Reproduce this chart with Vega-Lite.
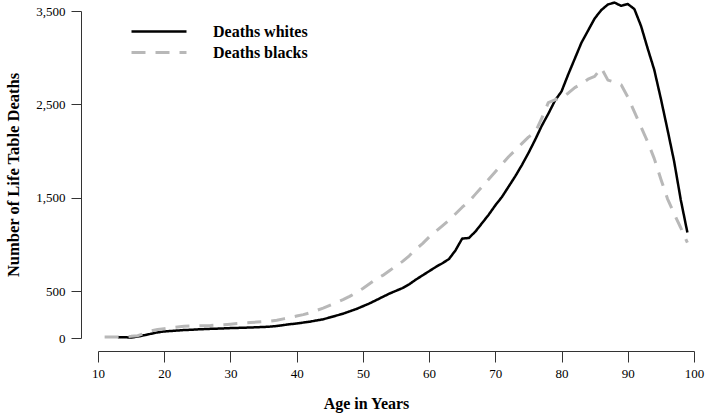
{
  "$schema": "https://vega.github.io/schema/vega-lite/v6.json",
  "autosize": {"type": "none"},
  "padding": {"left": 98, "top": 11, "right": 11, "bottom": 75},
  "width": 596,
  "height": 327,
  "background": "white",
  "config": {
    "view": {"stroke": null},
    "font": "Liberation Serif"
  },
  "data": {
    "values": [
      {"age":13,"deaths":8,"group":"Deaths whites"},{"age":14,"deaths":8,"group":"Deaths whites"},{"age":15,"deaths":5,"group":"Deaths whites"},{"age":16,"deaths":15,"group":"Deaths whites"},{"age":17,"deaths":30,"group":"Deaths whites"},{"age":18,"deaths":45,"group":"Deaths whites"},{"age":19,"deaths":60,"group":"Deaths whites"},{"age":20,"deaths":70,"group":"Deaths whites"},{"age":21,"deaths":75,"group":"Deaths whites"},{"age":22,"deaths":80,"group":"Deaths whites"},{"age":23,"deaths":85,"group":"Deaths whites"},{"age":24,"deaths":88,"group":"Deaths whites"},{"age":25,"deaths":92,"group":"Deaths whites"},{"age":26,"deaths":95,"group":"Deaths whites"},{"age":27,"deaths":98,"group":"Deaths whites"},{"age":28,"deaths":100,"group":"Deaths whites"},{"age":29,"deaths":103,"group":"Deaths whites"},{"age":30,"deaths":106,"group":"Deaths whites"},{"age":31,"deaths":108,"group":"Deaths whites"},{"age":32,"deaths":110,"group":"Deaths whites"},{"age":33,"deaths":112,"group":"Deaths whites"},{"age":34,"deaths":115,"group":"Deaths whites"},{"age":35,"deaths":118,"group":"Deaths whites"},{"age":36,"deaths":122,"group":"Deaths whites"},{"age":37,"deaths":128,"group":"Deaths whites"},{"age":38,"deaths":138,"group":"Deaths whites"},{"age":39,"deaths":148,"group":"Deaths whites"},{"age":40,"deaths":155,"group":"Deaths whites"},{"age":41,"deaths":165,"group":"Deaths whites"},{"age":42,"deaths":175,"group":"Deaths whites"},{"age":43,"deaths":188,"group":"Deaths whites"},{"age":44,"deaths":200,"group":"Deaths whites"},{"age":45,"deaths":220,"group":"Deaths whites"},{"age":46,"deaths":240,"group":"Deaths whites"},{"age":47,"deaths":260,"group":"Deaths whites"},{"age":48,"deaths":285,"group":"Deaths whites"},{"age":49,"deaths":310,"group":"Deaths whites"},{"age":50,"deaths":340,"group":"Deaths whites"},{"age":51,"deaths":370,"group":"Deaths whites"},{"age":52,"deaths":405,"group":"Deaths whites"},{"age":53,"deaths":440,"group":"Deaths whites"},{"age":54,"deaths":475,"group":"Deaths whites"},{"age":55,"deaths":505,"group":"Deaths whites"},{"age":56,"deaths":535,"group":"Deaths whites"},{"age":57,"deaths":575,"group":"Deaths whites"},{"age":58,"deaths":625,"group":"Deaths whites"},{"age":59,"deaths":670,"group":"Deaths whites"},{"age":60,"deaths":715,"group":"Deaths whites"},{"age":61,"deaths":760,"group":"Deaths whites"},{"age":62,"deaths":800,"group":"Deaths whites"},{"age":63,"deaths":845,"group":"Deaths whites"},{"age":64,"deaths":940,"group":"Deaths whites"},{"age":65,"deaths":1065,"group":"Deaths whites"},{"age":66,"deaths":1070,"group":"Deaths whites"},{"age":67,"deaths":1140,"group":"Deaths whites"},{"age":68,"deaths":1230,"group":"Deaths whites"},{"age":69,"deaths":1320,"group":"Deaths whites"},{"age":70,"deaths":1420,"group":"Deaths whites"},{"age":71,"deaths":1510,"group":"Deaths whites"},{"age":72,"deaths":1620,"group":"Deaths whites"},{"age":73,"deaths":1730,"group":"Deaths whites"},{"age":74,"deaths":1850,"group":"Deaths whites"},{"age":75,"deaths":1980,"group":"Deaths whites"},{"age":76,"deaths":2120,"group":"Deaths whites"},{"age":77,"deaths":2270,"group":"Deaths whites"},{"age":78,"deaths":2400,"group":"Deaths whites"},{"age":79,"deaths":2540,"group":"Deaths whites"},{"age":80,"deaths":2640,"group":"Deaths whites"},{"age":81,"deaths":2820,"group":"Deaths whites"},{"age":82,"deaths":2990,"group":"Deaths whites"},{"age":83,"deaths":3160,"group":"Deaths whites"},{"age":84,"deaths":3290,"group":"Deaths whites"},{"age":85,"deaths":3420,"group":"Deaths whites"},{"age":86,"deaths":3510,"group":"Deaths whites"},{"age":87,"deaths":3570,"group":"Deaths whites"},{"age":88,"deaths":3590,"group":"Deaths whites"},{"age":89,"deaths":3555,"group":"Deaths whites"},{"age":90,"deaths":3575,"group":"Deaths whites"},{"age":91,"deaths":3520,"group":"Deaths whites"},{"age":92,"deaths":3340,"group":"Deaths whites"},{"age":93,"deaths":3100,"group":"Deaths whites"},{"age":94,"deaths":2870,"group":"Deaths whites"},{"age":95,"deaths":2560,"group":"Deaths whites"},{"age":96,"deaths":2230,"group":"Deaths whites"},{"age":97,"deaths":1890,"group":"Deaths whites"},{"age":98,"deaths":1480,"group":"Deaths whites"},{"age":99,"deaths":1130,"group":"Deaths whites"},
      {"age":11,"deaths":12,"group":"Deaths blacks"},{"age":12,"deaths":12,"group":"Deaths blacks"},{"age":13,"deaths":12,"group":"Deaths blacks"},{"age":14,"deaths":15,"group":"Deaths blacks"},{"age":15,"deaths":18,"group":"Deaths blacks"},{"age":16,"deaths":25,"group":"Deaths blacks"},{"age":17,"deaths":50,"group":"Deaths blacks"},{"age":18,"deaths":75,"group":"Deaths blacks"},{"age":19,"deaths":90,"group":"Deaths blacks"},{"age":20,"deaths":100,"group":"Deaths blacks"},{"age":21,"deaths":110,"group":"Deaths blacks"},{"age":22,"deaths":118,"group":"Deaths blacks"},{"age":23,"deaths":125,"group":"Deaths blacks"},{"age":24,"deaths":128,"group":"Deaths blacks"},{"age":25,"deaths":130,"group":"Deaths blacks"},{"age":26,"deaths":132,"group":"Deaths blacks"},{"age":27,"deaths":134,"group":"Deaths blacks"},{"age":28,"deaths":138,"group":"Deaths blacks"},{"age":29,"deaths":142,"group":"Deaths blacks"},{"age":30,"deaths":148,"group":"Deaths blacks"},{"age":31,"deaths":155,"group":"Deaths blacks"},{"age":32,"deaths":160,"group":"Deaths blacks"},{"age":33,"deaths":165,"group":"Deaths blacks"},{"age":34,"deaths":170,"group":"Deaths blacks"},{"age":35,"deaths":175,"group":"Deaths blacks"},{"age":36,"deaths":180,"group":"Deaths blacks"},{"age":37,"deaths":190,"group":"Deaths blacks"},{"age":38,"deaths":205,"group":"Deaths blacks"},{"age":39,"deaths":220,"group":"Deaths blacks"},{"age":40,"deaths":235,"group":"Deaths blacks"},{"age":41,"deaths":250,"group":"Deaths blacks"},{"age":42,"deaths":270,"group":"Deaths blacks"},{"age":43,"deaths":295,"group":"Deaths blacks"},{"age":44,"deaths":320,"group":"Deaths blacks"},{"age":45,"deaths":350,"group":"Deaths blacks"},{"age":46,"deaths":380,"group":"Deaths blacks"},{"age":47,"deaths":410,"group":"Deaths blacks"},{"age":48,"deaths":445,"group":"Deaths blacks"},{"age":49,"deaths":485,"group":"Deaths blacks"},{"age":50,"deaths":530,"group":"Deaths blacks"},{"age":51,"deaths":580,"group":"Deaths blacks"},{"age":52,"deaths":630,"group":"Deaths blacks"},{"age":53,"deaths":670,"group":"Deaths blacks"},{"age":54,"deaths":720,"group":"Deaths blacks"},{"age":55,"deaths":770,"group":"Deaths blacks"},{"age":56,"deaths":820,"group":"Deaths blacks"},{"age":57,"deaths":880,"group":"Deaths blacks"},{"age":58,"deaths":950,"group":"Deaths blacks"},{"age":59,"deaths":1010,"group":"Deaths blacks"},{"age":60,"deaths":1080,"group":"Deaths blacks"},{"age":61,"deaths":1140,"group":"Deaths blacks"},{"age":62,"deaths":1200,"group":"Deaths blacks"},{"age":63,"deaths":1260,"group":"Deaths blacks"},{"age":64,"deaths":1330,"group":"Deaths blacks"},{"age":65,"deaths":1400,"group":"Deaths blacks"},{"age":66,"deaths":1460,"group":"Deaths blacks"},{"age":67,"deaths":1540,"group":"Deaths blacks"},{"age":68,"deaths":1620,"group":"Deaths blacks"},{"age":69,"deaths":1700,"group":"Deaths blacks"},{"age":70,"deaths":1780,"group":"Deaths blacks"},{"age":71,"deaths":1860,"group":"Deaths blacks"},{"age":72,"deaths":1940,"group":"Deaths blacks"},{"age":73,"deaths":2010,"group":"Deaths blacks"},{"age":74,"deaths":2080,"group":"Deaths blacks"},{"age":75,"deaths":2150,"group":"Deaths blacks"},{"age":76,"deaths":2200,"group":"Deaths blacks"},{"age":77,"deaths":2350,"group":"Deaths blacks"},{"age":78,"deaths":2520,"group":"Deaths blacks"},{"age":79,"deaths":2550,"group":"Deaths blacks"},{"age":80,"deaths":2570,"group":"Deaths blacks"},{"age":81,"deaths":2620,"group":"Deaths blacks"},{"age":82,"deaths":2680,"group":"Deaths blacks"},{"age":83,"deaths":2720,"group":"Deaths blacks"},{"age":84,"deaths":2770,"group":"Deaths blacks"},{"age":85,"deaths":2800,"group":"Deaths blacks"},{"age":86,"deaths":2890,"group":"Deaths blacks"},{"age":87,"deaths":2760,"group":"Deaths blacks"},{"age":88,"deaths":2740,"group":"Deaths blacks"},{"age":89,"deaths":2710,"group":"Deaths blacks"},{"age":90,"deaths":2580,"group":"Deaths blacks"},{"age":91,"deaths":2420,"group":"Deaths blacks"},{"age":92,"deaths":2260,"group":"Deaths blacks"},{"age":93,"deaths":2100,"group":"Deaths blacks"},{"age":94,"deaths":1920,"group":"Deaths blacks"},{"age":95,"deaths":1700,"group":"Deaths blacks"},{"age":96,"deaths":1490,"group":"Deaths blacks"},{"age":97,"deaths":1330,"group":"Deaths blacks"},{"age":98,"deaths":1180,"group":"Deaths blacks"},{"age":99,"deaths":1020,"group":"Deaths blacks"}
    ]
  },
  "mark": {"type": "line", "strokeCap": "butt", "strokeJoin": "round"},
  "encoding": {
    "x": {
      "field": "age", "type": "quantitative",
      "scale": {"domain": [10, 100], "nice": false, "zero": false},
      "axis": {
        "title": "Age in Years", "values": [10,20,30,40,50,60,70,80,90,100], "format": "d",
        "grid": false, "offset": 13, "tickSize": 11, "tickColor": "#333", "domainColor": "#333",
        "labelFont": "Liberation Serif", "labelFontSize": 13, "labelColor": "black", "labelPadding": 5,
        "labelFlush": false,
        "titleFont": "Liberation Serif", "titleFontSize": 16, "titleFontWeight": "bold", "titleColor": "black", "titlePadding": 15,
        "titleX": 268
      }
    },
    "y": {
      "field": "deaths", "type": "quantitative",
      "scale": {"domain": [0, 3500], "nice": false},
      "axis": {
        "title": "Number of Life Table Deaths", "values": [0, 500, 1500, 2500, 3500], "format": ",.0f",
        "grid": false, "offset": 17, "tickSize": 10, "tickColor": "#333", "domainColor": "#333",
        "labelFont": "Liberation Serif", "labelFontSize": 13, "labelColor": "black", "labelPadding": 6,
        "labelFlush": false,
        "titleFont": "Liberation Serif", "titleFontSize": 16.5, "titleFontWeight": "bold", "titleColor": "black", "titlePadding": 14
      }
    },
    "color": {
      "field": "group", "type": "nominal",
      "scale": {"domain": ["Deaths whites", "Deaths blacks"], "range": ["black", "#b8b8b8"]},
      "legend": {
        "title": null, "orient": "none", "legendX": 32, "legendY": 10,
        "symbolType": "stroke", "symbolSize": 3025, "symbolStrokeWidth": 3,
        "labelFont": "Liberation Serif", "labelFontSize": 16, "labelFontWeight": "bold", "labelColor": "black",
        "labelOffset": 25, "rowPadding": 0, "clipHeight": 21
      }
    },
    "strokeDash": {
      "field": "group", "type": "nominal",
      "scale": {"domain": ["Deaths whites", "Deaths blacks"], "range": [[1, 0], [14, 10]]},
      "legend": null
    },
    "strokeWidth": {
      "field": "group", "type": "nominal",
      "scale": {"domain": ["Deaths whites", "Deaths blacks"], "range": [2.5, 3]},
      "legend": null
    }
  }
}
